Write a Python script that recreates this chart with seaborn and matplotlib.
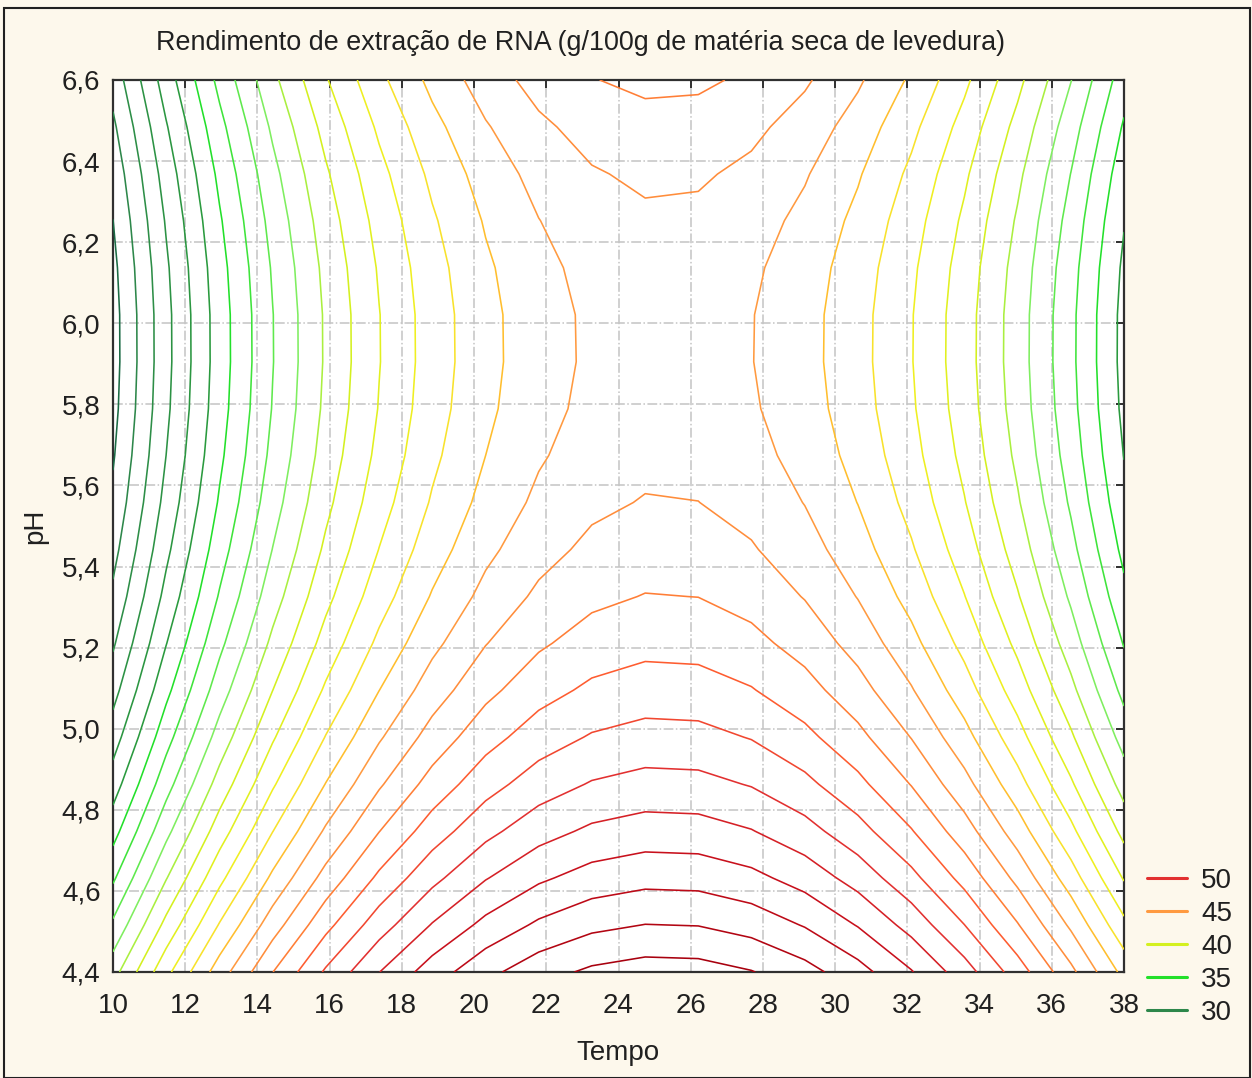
import numpy as np
import matplotlib
matplotlib.use("Agg")
import matplotlib.pyplot as plt
import seaborn as sns
from matplotlib.colors import LinearSegmentedColormap, Normalize
from matplotlib.lines import Line2D
from matplotlib.patches import Rectangle
from matplotlib.ticker import FixedLocator, FuncFormatter

# ---------------- data ----------------
title = "Rendimento de extração de RNA (g/100g de matéria seca de levedura)"
x_label = "Tempo"
y_label = "pH"

# fitted-surface grid (20 x 20, as in the original software)
tempo_grid = [10.00, 11.47, 12.95, 14.42, 15.89, 17.37, 18.84, 20.32, 21.79, 23.26,
              24.74, 26.21, 27.68, 29.16, 30.63, 32.11, 33.58, 35.05, 36.53, 38.00]
ph_grid = [4.400, 4.516, 4.632, 4.747, 4.863, 4.979, 5.095, 5.211, 5.326, 5.442,
           5.558, 5.674, 5.789, 5.905, 6.021, 6.137, 6.253, 6.368, 6.484, 6.600]

# yield profile along Tempo (at the saddle pH) and along pH (at the saddle Tempo)
yield_along_tempo = [28.59, 31.69, 34.48, 36.95, 39.11, 40.95, 42.47, 43.69, 44.58, 45.16,
                     45.43, 45.38, 45.02, 44.34, 43.35, 42.04, 40.42, 38.48, 36.23, 33.66]
yield_along_ph = [55.48, 54.04, 52.70, 51.48, 50.37, 49.38, 48.49, 47.72, 47.06, 46.52,
                  46.08, 45.76, 45.55, 45.46, 45.47, 45.60, 45.85, 46.20, 46.67, 47.25]
saddle_yield = 45.45

contour_levels = list(range(29, 56))
legend_levels = [50, 45, 40, 35, 30]

color_anchor_levels = [29, 30, 34, 35, 38, 40, 42, 43, 44, 45, 47, 48, 50, 52, 55]
color_anchor_colors = ["#1C6B45", "#2E8A4A", "#2A9A3E", "#22E02A", "#80EE60", "#D4F020",
                       "#EEF020", "#F8E22C", "#FFBE2E", "#FF9A40", "#FF8036", "#FF5E30",
                       "#E23030", "#C8101C", "#A8000E"]

tempo_ticks = [10, 12, 14, 16, 18, 20, 22, 24, 26, 28, 30, 32, 34, 36, 38]
ph_ticks = [4.4, 4.6, 4.8, 5.0, 5.2, 5.4, 5.6, 5.8, 6.0, 6.2, 6.4, 6.6]

# ---------------- style ----------------
sns.set_style("white")
plt.rcParams["font.family"] = ["Liberation Sans Narrow", "Liberation Sans", "DejaVu Sans"]

BG = "#FDF8EC"
W, H = 1252, 1078
fig = plt.figure(figsize=(W / 100, H / 100), dpi=100, facecolor=BG)

left, right, top, bottom = 113, 1124, 80, 972
ax = fig.add_axes([left / W, 1 - bottom / H, (right - left) / W, (bottom - top) / H])
ax.set_facecolor("white")

# surface built from the two profiles (additive quadratic response surface)
Z = np.add.outer(np.array(yield_along_ph), np.array(yield_along_tempo)) - saddle_yield

lo, hi = color_anchor_levels[0], color_anchor_levels[-1]
cmap = LinearSegmentedColormap.from_list(
    "statistica",
    [((v - lo) / (hi - lo), c) for v, c in zip(color_anchor_levels, color_anchor_colors)])
norm = Normalize(lo, hi)
line_colors = [cmap(norm(v)) for v in contour_levels]

ax.contour(tempo_grid, ph_grid, Z, levels=contour_levels, colors=line_colors,
           linewidths=1.15, zorder=3)

ax.set_xlim(10, 38)
ax.set_ylim(4.4, 6.6)
ax.xaxis.set_major_locator(FixedLocator(tempo_ticks))
ax.yaxis.set_major_locator(FixedLocator(ph_ticks))
ax.xaxis.set_major_formatter(FuncFormatter(lambda v, p: f"{v:.0f}"))
ax.yaxis.set_major_formatter(FuncFormatter(lambda v, p: f"{v:.1f}".replace(".", ",")))

ax.grid(True, color="#C4C4C4", linestyle="-.", linewidth=1.1, zorder=1)
ax.set_axisbelow(True)

for s in ax.spines.values():
    s.set_color("#303030")
    s.set_linewidth(1.6)
    s.set_visible(True)

ax.tick_params(axis="both", which="major", direction="in", length=6, width=1.4,
               color="#303030", top=True, right=True, labelsize=20, labelcolor="#202020")
ax.tick_params(axis="x", pad=15)
ax.tick_params(axis="y", pad=9)

fig.text(580 / W, 1 - 43 / H, title, ha="center", va="center", fontsize=19.4, color="#202020")
fig.text(618 / W, 1 - 1053 / H, x_label, ha="center", va="center", fontsize=20, color="#202020")
fig.text(35 / W, 1 - 526 / H, y_label, ha="center", va="center", rotation=90,
         fontsize=20, color="#202020")

handles = [Line2D([0], [0], color=cmap(norm(v)), lw=2.2) for v in legend_levels]
fig.legend(handles, [str(v) for v in legend_levels], loc="upper left",
           bbox_to_anchor=(1147 / W, 1 - 868 / H), frameon=False, fontsize=20,
           handlelength=1.45, handletextpad=0.5, labelspacing=0.25,
           borderaxespad=0, borderpad=0, labelcolor="#202020")

fig.patches.append(Rectangle((4 / W, 0), (W - 6) / W, 1 - 8 / H, transform=fig.transFigure,
                             fill=False, edgecolor="#202020", linewidth=1.5))

fig.savefig("out.png", dpi=100, facecolor=BG)
